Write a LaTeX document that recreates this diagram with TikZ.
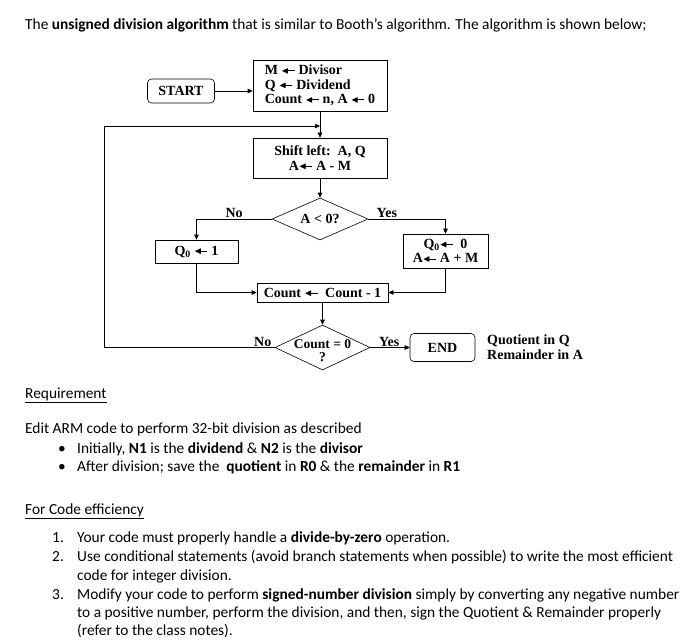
\documentclass[tikz,border=0pt]{standalone}
\usepackage{fontspec}
\setmainfont{Carlito}
\newfontfamily\tms{Liberation Serif}
\usetikzlibrary{shapes.geometric,arrows.meta,positioning}

\newcommand{\dgm}{\tms\bfseries\fontsize{14}{14.5}\selectfont}
\newcommand{\lar}{\tikz[baseline=-0.6ex]\draw[-{Triangle[length=6pt,width=5.5pt]},line width=1pt] (0.9em,0)--(0,0);}

\tikzset{
  box/.style={draw,line width=0.6pt,font=\dgm,inner sep=2pt},
  rbox/.style={box,rounded corners=4pt},
  dec/.style={draw,diamond,line width=0.6pt,font=\dgm,inner sep=0pt,aspect=2.3,align=center},
  arr/.style={-{Triangle[length=5pt,width=4.5pt]},line width=0.6pt},
  lbl/.style={font=\dgm,inner sep=1pt},
  txt/.style={anchor=base west,inner sep=0pt,font=\fontsize{15.4}{18}\selectfont},
}

\begin{document}
\begin{tikzpicture}[x=1pt,y=-1pt]
	\useasboundingbox (0,0) rectangle (700,639);
	% flowchart
	\node[rbox,minimum width=67,minimum height=24] (start) at (181,91) {START};
	\node[box,minimum width=134,minimum height=51,align=left] (init) at (320,85.5) {M \lar\ Divisor\\Q \lar\ Dividend\\Count \lar\ n, A \lar\ 0};
	\node[box,minimum width=134,minimum height=40,align=center] (shift) at (320,158) {Shift left:\ \ A, Q\\A\lar\ A - M};
	\node[dec,minimum width=96,minimum height=42] (neg) at (320,219) {A < 0?};
	\node[box,minimum width=83,minimum height=23] (qone) at (196.5,251.5) {Q\textsubscript{0} \lar\ 1};
	\node[box,minimum width=85,minimum height=34,align=center] (qzero) at (445.5,251) {Q\textsubscript{0}\lar\ \ 0\\A\lar\ A + M};
	\node[box,minimum width=131,minimum height=19] (cntdec) at (322.5,292.5) {Count \lar\ \ Count - 1};
	\node[dec,minimum width=95,minimum height=45] (zero) at (322.5,347.5) {};
	\node[lbl,align=center,font=\tms\bfseries\fontsize{13.5}{13.5}\selectfont] (zerot) at (322.5,350.5) {Count = 0\\?};
	\node[rbox,minimum width=65,minimum height=28] (end) at (442.5,347.5) {END};
	\node[lbl,anchor=west,align=left] (res) at (486,347) {Quotient in Q\\Remainder in A};
	\coordinate (join) at (320,126);

	\draw[arr] (start.east) -- (start.east -| init.west);
	\draw[arr] (init) -- (shift);
	\draw[arr] (shift) -- (neg);
	\draw[arr] (neg.west) -| node[lbl,pos=0.25,above] {No} (qone.north);
	\draw[arr] (neg.east) -| node[lbl,pos=0.12,above] {Yes} (qzero.north);
	\draw[arr] (qone.south) |- (cntdec.west);
	\draw[arr] (qzero.south) |- (cntdec.east);
	\draw[arr] (cntdec) -- (zero);
	\draw[arr] (zero.west) -- node[lbl,above,pos=0.07] {No} ++(-170,0) |- (join);
	\draw[arr] (zero.east) -- node[lbl,above,pos=0.48] {Yes} (end.west);

	% text
	\node[txt] (title) at (25,30) {The \textbf{unsigned division algorithm} that is similar to Booth's algorithm. The algorithm is shown below;};
	\node[txt] (req) at (25,398) {\underline{Requirement}};
	\node[txt] (edit) at (25,433) {Edit ARM code to perform 32-bit division as described};
	\node[txt] (b1) at (58,453) {•};
	\node[txt] (b1t) at (77,453) {Initially, \textbf{N1} is the \textbf{dividend} \& \textbf{N2} is the \textbf{divisor}};
	\node[txt] (b2) at (58,471) {•};
	\node[txt] (b2t) at (77,471) {After division; save the\ \ \textbf{quotient} in \textbf{R0} \& the \textbf{remainder} in \textbf{R1}};
	\node[txt] (eff) at (25,514) {\underline{For Code efficiency}};
	\node[txt] (n1) at (52,542) {1.};
	\node[txt] (n1t) at (77,542) {Your code must properly handle a \textbf{divide-by-zero} operation.};
	\node[txt] (n2) at (52,561) {2.};
	\node[txt] (n2t) at (77,561) {Use conditional statements (avoid branch statements when possible) to write the most efficient};
	\node[txt] (n2u) at (77,580) {code for integer division.};
	\node[txt] (n3) at (52,599) {3.};
	\node[txt] (n3t) at (77,599) {Modify your code to perform \textbf{signed-number division} simply by converting any negative number};
	\node[txt] (n3u) at (77,617) {to a positive number, perform the division, and then, sign the Quotient \& Remainder properly};
	\node[txt] (n3v) at (77,635) {(refer to the class notes).};
\end{tikzpicture}
\end{document}
